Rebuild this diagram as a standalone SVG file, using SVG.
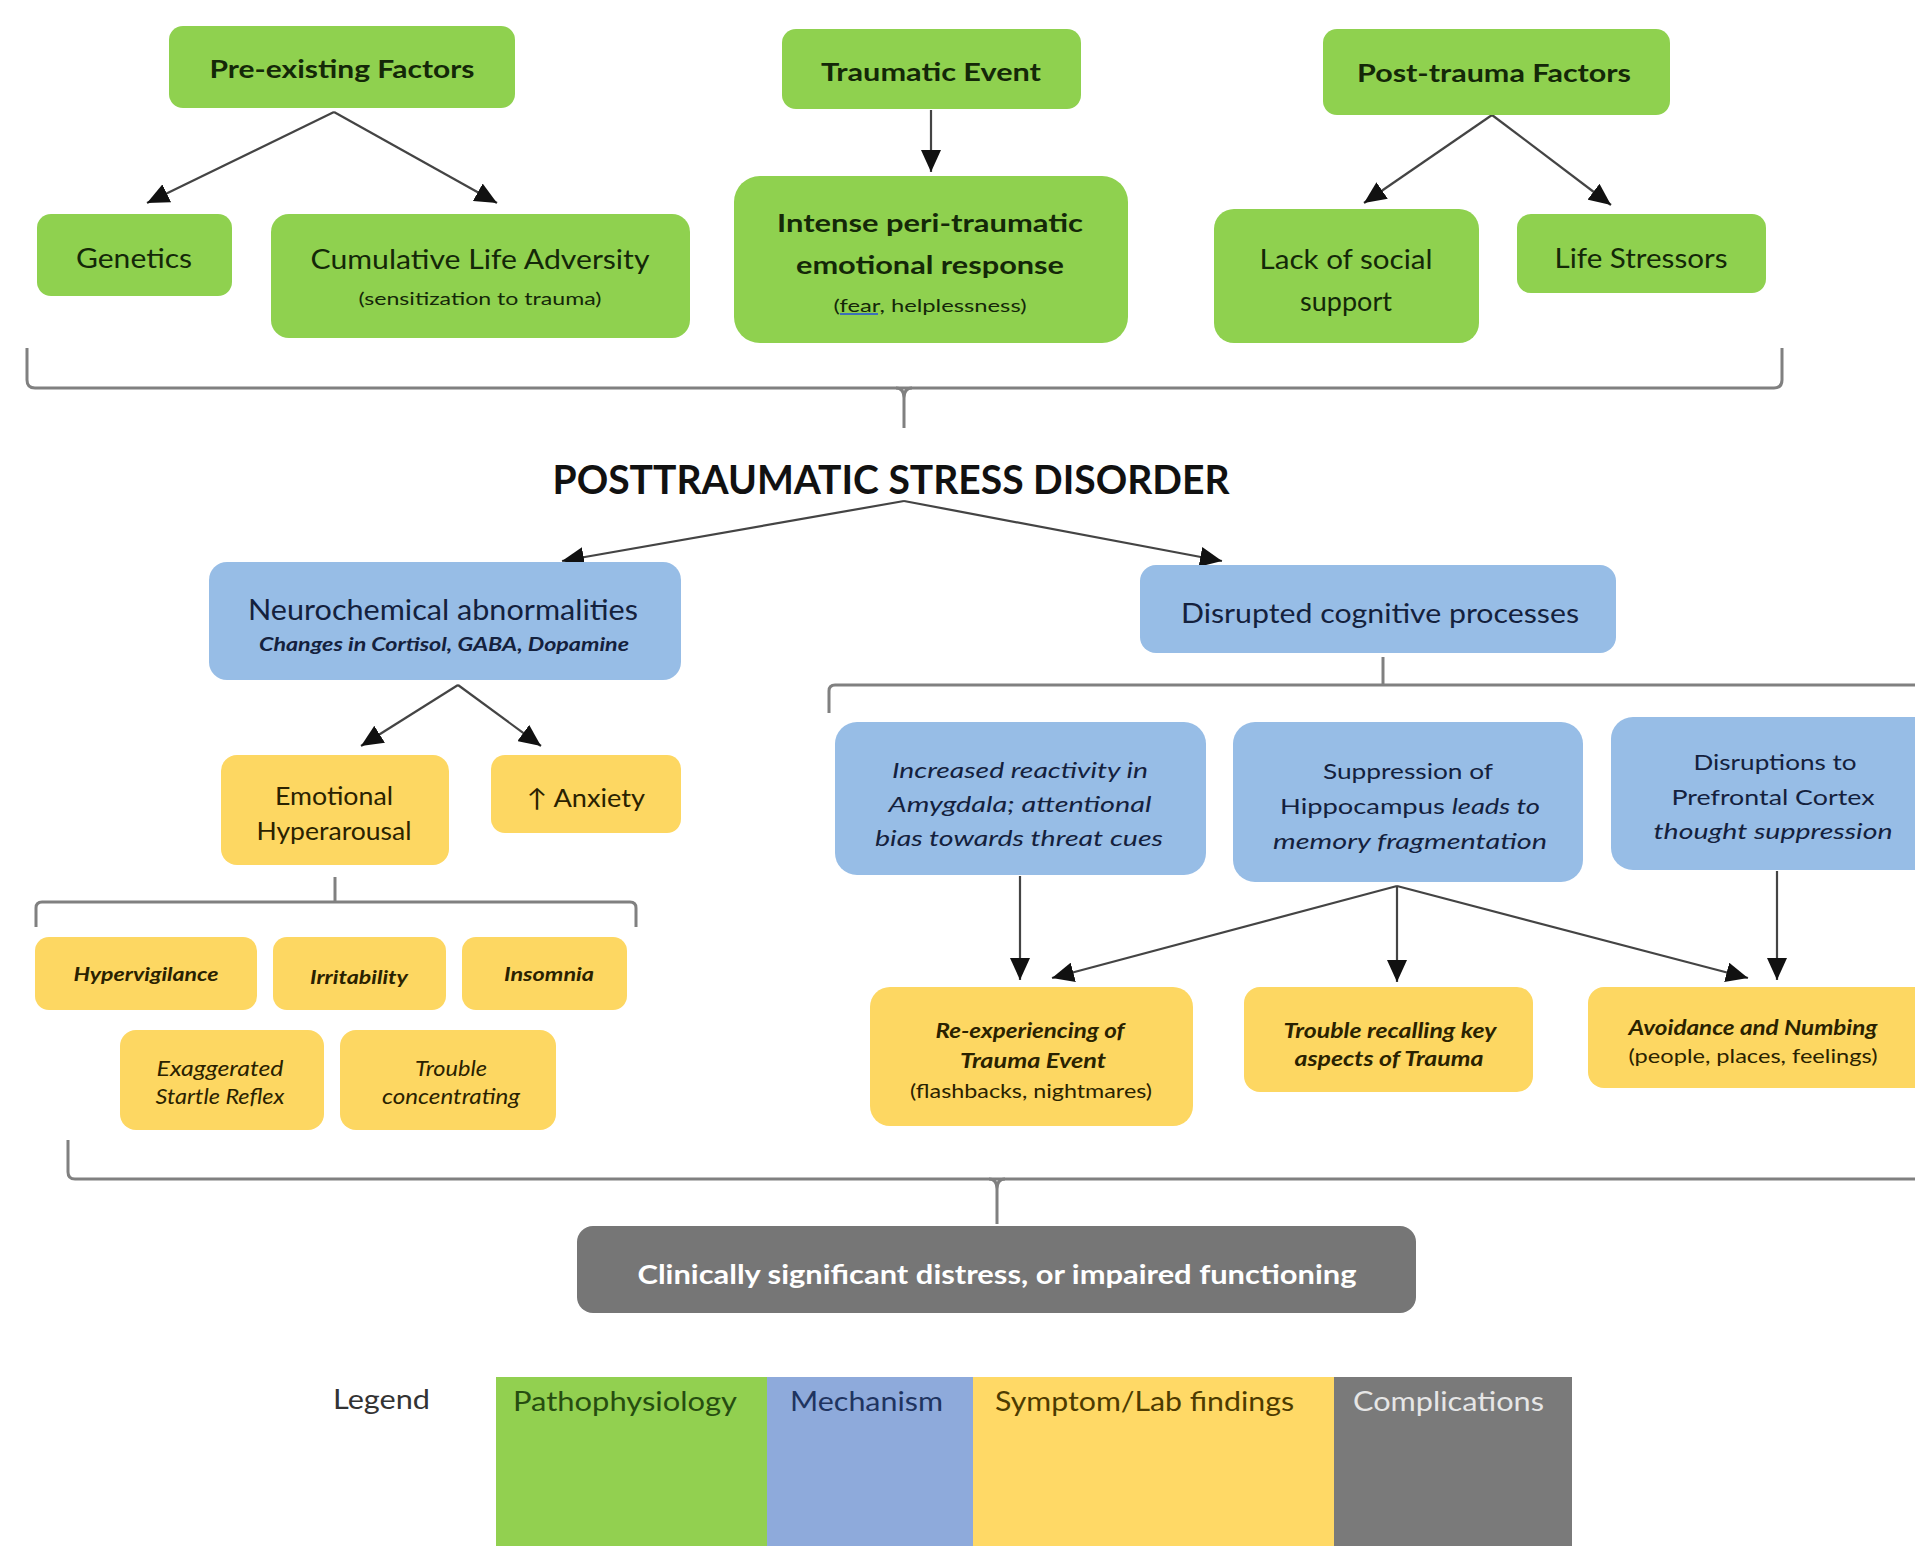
<svg xmlns="http://www.w3.org/2000/svg" width="1915" height="1546" viewBox="0 0 1915 1546">
  <style>
    text { font-family: Lato, "Liberation Sans", "DejaVu Sans", sans-serif; dominant-baseline: central; }
    .c { text-anchor: middle; }
    .s { text-anchor: start; }
    .bold { font-weight: 700; }
    .it { font-style: italic; }
    .g { fill: #8fd14f; }
    .b { fill: #97bde6; }
    .y { fill: #fdd762; }
    .k { fill: #767676; }
    .tg { fill: #142808; }
    .tb { fill: #14213d; }
    .ty { fill: #2a2200; }
    .tk { fill: #ffffff; }
    .arrow { fill: none; stroke: #444; stroke-width: 2.2; marker-end: url(#ah); }
    .brace { fill: none; stroke: #808080; stroke-width: 3; }
  </style>
  <defs>
    <marker id="ah" markerWidth="22" markerHeight="20" refX="22" refY="10" orient="auto" markerUnits="userSpaceOnUse">
      <path d="M0,0 L22,10 L0,20 z" fill="#111"/>
    </marker>
  </defs>
  <rect width="1915" height="1546" fill="#ffffff"/>

  <!-- connectors and grouping braces -->
  <g id="connectors">
    <path class="arrow" d="M334,112 L147,203"/>
    <path class="arrow" d="M334,112 L497,203"/>
    <path class="arrow" d="M931,110 L931,172"/>
    <path class="arrow" d="M1492,115 L1364,203"/>
    <path class="arrow" d="M1492,115 L1611,205"/>

    <path class="brace" d="M27,348 V380 Q27,388 35,388 H1774 Q1782,388 1782,380 V348"/>
    <path class="brace" d="M896,388 Q904,388 904,398 V428 M912,388 Q904,388 904,398"/>

    <path class="arrow" d="M904,501 L562,561"/>
    <path class="arrow" d="M904,501 L1222,561"/>

    <path class="arrow" d="M458,685 L361,746"/>
    <path class="arrow" d="M458,685 L541,746"/>

    <path class="brace" d="M36,927 V908 Q36,902 42,902 H630 Q636,902 636,908 V927"/>
    <path class="brace" d="M335,877 V902"/>

    <path class="brace" d="M829,713 V691 Q829,685 835,685 H1915"/>
    <path class="brace" d="M1383,657 V685"/>

    <path class="arrow" d="M1020,876 L1020,980"/>
    <path class="arrow" d="M1397,886 L1052,978"/>
    <path class="arrow" d="M1397,886 L1397,982"/>
    <path class="arrow" d="M1397,886 L1748,978"/>
    <path class="arrow" d="M1777,871 L1777,980"/>

    <path class="brace" d="M68,1140 V1172 Q68,1179 75,1179 H1915"/>
    <path class="brace" d="M989,1179 Q997,1179 997,1189 V1224 M1005,1179 Q997,1179 997,1189"/>
  </g>

  <!-- risk factors -->
  <g id="pre-existing-factors">
    <rect class="g" x="169" y="26" width="346" height="82" rx="14"/>
    <text class="c bold tg" x="342" y="68" font-size="24" textLength="265" lengthAdjust="spacingAndGlyphs">Pre-existing Factors</text>
  </g>
  <g id="traumatic-event">
    <rect class="g" x="782" y="29" width="299" height="80" rx="14"/>
    <text class="c bold tg" x="931" y="71" font-size="24" textLength="220" lengthAdjust="spacingAndGlyphs">Traumatic Event</text>
  </g>
  <g id="post-trauma-factors">
    <rect class="g" x="1323" y="29" width="347" height="86" rx="14"/>
    <text class="c bold tg" x="1494" y="72" font-size="24" textLength="274" lengthAdjust="spacingAndGlyphs">Post-trauma Factors</text>
  </g>
  <g id="genetics">
    <rect class="g" x="37" y="214" width="195" height="82" rx="14"/>
    <text class="c tg" x="134" y="257" font-size="27" textLength="116" lengthAdjust="spacingAndGlyphs">Genetics</text>
  </g>
  <g id="cumulative-life-adversity">
    <rect class="g" x="271" y="214" width="419" height="124" rx="18"/>
    <text class="c tg" x="480" y="258" font-size="27" textLength="339" lengthAdjust="spacingAndGlyphs">Cumulative Life Adversity</text>
    <text class="c tg" x="480" y="298" font-size="17" textLength="243" lengthAdjust="spacingAndGlyphs">(sensitization to trauma)</text>
  </g>
  <g id="peri-traumatic-response">
    <rect class="g" x="734" y="176" width="394" height="167" rx="26"/>
    <text class="c bold tg" x="930" y="222" font-size="25" textLength="306" lengthAdjust="spacingAndGlyphs">Intense peri-traumatic</text>
    <text class="c bold tg" x="930" y="264" font-size="25" textLength="268" lengthAdjust="spacingAndGlyphs">emotional response</text>
    <text class="c tg" x="930" y="305" font-size="17" textLength="193" lengthAdjust="spacingAndGlyphs">(fear, helplessness)</text>
    <line x1="840" y1="314" x2="878" y2="314" stroke="#3d6fb8" stroke-width="2"/>
  </g>
  <g id="lack-of-social-support">
    <rect class="g" x="1214" y="209" width="265" height="134" rx="20"/>
    <text class="c tg" x="1346" y="258" font-size="27" textLength="173" lengthAdjust="spacingAndGlyphs">Lack of social</text>
    <text class="c tg" x="1346" y="300" font-size="27">support</text>
  </g>
  <g id="life-stressors">
    <rect class="g" x="1517" y="214" width="249" height="79" rx="14"/>
    <text class="c tg" x="1641" y="257" font-size="27" textLength="173" lengthAdjust="spacingAndGlyphs">Life Stressors</text>
  </g>

  <!-- disorder -->
  <g id="ptsd">
    <text class="c bold" x="891" y="479" font-size="40" fill="#111" textLength="677" lengthAdjust="spacingAndGlyphs">POSTTRAUMATIC STRESS DISORDER</text>
  </g>

  <!-- mechanisms -->
  <g id="neurochemical-abnormalities">
    <rect class="b" x="209" y="562" width="472" height="118" rx="18"/>
    <text class="c tb" x="443" y="609" font-size="28" textLength="390" lengthAdjust="spacingAndGlyphs">Neurochemical abnormalities</text>
    <text class="c it bold tb" x="444" y="643" font-size="19" textLength="370" lengthAdjust="spacingAndGlyphs">Changes in Cortisol, GABA, Dopamine</text>
  </g>
  <g id="disrupted-cognitive-processes">
    <rect class="b" x="1140" y="565" width="476" height="88" rx="16"/>
    <text class="c tb" x="1380" y="612" font-size="27" textLength="398" lengthAdjust="spacingAndGlyphs">Disrupted cognitive processes</text>
  </g>

  <!-- hyperarousal branch -->
  <g id="emotional-hyperarousal">
    <rect class="y" x="221" y="755" width="228" height="110" rx="16"/>
    <text class="c ty" x="334" y="795" font-size="25" textLength="118" lengthAdjust="spacingAndGlyphs">Emotional</text>
    <text class="c ty" x="334" y="830" font-size="25" textLength="155" lengthAdjust="spacingAndGlyphs">Hyperarousal</text>
  </g>
  <g id="anxiety">
    <rect class="y" x="491" y="755" width="190" height="78" rx="14"/>
    <text class="c ty" x="586" y="797" font-size="25" textLength="118" lengthAdjust="spacingAndGlyphs">↑ Anxiety</text>
  </g>
  <g id="hypervigilance">
    <rect class="y" x="35" y="937" width="222" height="73" rx="14"/>
    <text class="c it bold ty" x="146" y="973" font-size="19" textLength="145" lengthAdjust="spacingAndGlyphs">Hypervigilance</text>
  </g>
  <g id="irritability">
    <rect class="y" x="273" y="937" width="173" height="73" rx="14"/>
    <text class="c it bold ty" x="359" y="976" font-size="19" textLength="98" lengthAdjust="spacingAndGlyphs">Irritability</text>
  </g>
  <g id="insomnia">
    <rect class="y" x="462" y="937" width="165" height="73" rx="14"/>
    <text class="c it bold ty" x="549" y="973" font-size="19" textLength="90" lengthAdjust="spacingAndGlyphs">Insomnia</text>
  </g>
  <g id="startle-reflex">
    <rect class="y" x="120" y="1030" width="204" height="100" rx="16"/>
    <text class="c it ty" x="220" y="1067" font-size="21" textLength="127" lengthAdjust="spacingAndGlyphs">Exaggerated</text>
    <text class="c it ty" x="220" y="1095" font-size="21" textLength="129" lengthAdjust="spacingAndGlyphs">Startle Reflex</text>
  </g>
  <g id="trouble-concentrating">
    <rect class="y" x="340" y="1030" width="216" height="100" rx="16"/>
    <text class="c it ty" x="451" y="1067" font-size="21" textLength="72" lengthAdjust="spacingAndGlyphs">Trouble</text>
    <text class="c it ty" x="451" y="1095" font-size="21" textLength="138" lengthAdjust="spacingAndGlyphs">concentrating</text>
  </g>

  <!-- cognitive branch -->
  <g id="amygdala">
    <rect class="b" x="835" y="722" width="371" height="153" rx="22"/>
    <text class="c it tb" x="1020" y="769" font-size="22" textLength="256" lengthAdjust="spacingAndGlyphs">Increased reactivity in</text>
    <text class="c it tb" x="1020" y="803" font-size="22" textLength="263" lengthAdjust="spacingAndGlyphs">Amygdala; attentional</text>
    <text class="c it tb" x="1019" y="837" font-size="22" textLength="288" lengthAdjust="spacingAndGlyphs">bias towards threat cues</text>
  </g>
  <g id="hippocampus">
    <rect class="b" x="1233" y="722" width="350" height="160" rx="22"/>
    <text class="c tb" x="1408" y="770" font-size="22" textLength="170" lengthAdjust="spacingAndGlyphs">Suppression of</text>
    <text class="c tb" x="1410" y="805" font-size="22" textLength="260" lengthAdjust="spacingAndGlyphs">Hippocampus <tspan class="it">leads to</tspan></text>
    <text class="c it tb" x="1410" y="840" font-size="22" textLength="274" lengthAdjust="spacingAndGlyphs">memory fragmentation</text>
  </g>
  <g id="prefrontal-cortex">
    <rect class="b" x="1611" y="717" width="330" height="153" rx="22"/>
    <text class="c tb" x="1775" y="761" font-size="22" textLength="163" lengthAdjust="spacingAndGlyphs">Disruptions to</text>
    <text class="c tb" x="1773" y="796" font-size="22" textLength="203" lengthAdjust="spacingAndGlyphs">Prefrontal Cortex</text>
    <text class="c it tb" x="1773" y="830" font-size="22" textLength="239" lengthAdjust="spacingAndGlyphs">thought suppression</text>
  </g>
  <g id="re-experiencing">
    <rect class="y" x="870" y="987" width="323" height="139" rx="20"/>
    <text class="c it bold ty" x="1030" y="1030" font-size="20" textLength="189" lengthAdjust="spacingAndGlyphs">Re-experiencing of</text>
    <text class="c it bold ty" x="1033" y="1060" font-size="20" textLength="146" lengthAdjust="spacingAndGlyphs">Trauma Event</text>
    <text class="c ty" x="1031" y="1090" font-size="20" textLength="242" lengthAdjust="spacingAndGlyphs">(flashbacks, nightmares)</text>
  </g>
  <g id="trouble-recalling">
    <rect class="y" x="1244" y="987" width="289" height="105" rx="16"/>
    <text class="c it bold ty" x="1390" y="1030" font-size="20" textLength="213" lengthAdjust="spacingAndGlyphs">Trouble recalling key</text>
    <text class="c it bold ty" x="1389" y="1058" font-size="20" textLength="189" lengthAdjust="spacingAndGlyphs">aspects of Trauma</text>
  </g>
  <g id="avoidance-numbing">
    <rect class="y" x="1588" y="987" width="345" height="101" rx="16"/>
    <text class="c it bold ty" x="1753" y="1027" font-size="20" textLength="249" lengthAdjust="spacingAndGlyphs">Avoidance and Numbing</text>
    <text class="c ty" x="1753" y="1055" font-size="19" textLength="249" lengthAdjust="spacingAndGlyphs">(people, places, feelings)</text>
  </g>

  <!-- outcome -->
  <g id="clinical-distress">
    <rect class="k" x="577" y="1226" width="839" height="87" rx="16"/>
    <text class="c bold tk" x="997" y="1274" font-size="26" textLength="719" lengthAdjust="spacingAndGlyphs">Clinically significant distress, or impaired functioning</text>
  </g>

  <!-- colour key -->
  <g id="legend">
    <text class="s" x="333" y="1398" font-size="27" fill="#333" textLength="97" lengthAdjust="spacingAndGlyphs">Legend</text>
    <rect x="496" y="1377" width="271" height="169" fill="#92d050"/>
    <rect x="767" y="1377" width="206" height="169" fill="#8eaadb"/>
    <rect x="973" y="1377" width="361" height="169" fill="#ffd966"/>
    <rect x="1334" y="1377" width="238" height="169" fill="#7a7a7a"/>
    <text class="s" x="513" y="1400" font-size="27" fill="#264d10" textLength="224" lengthAdjust="spacingAndGlyphs">Pathophysiology</text>
    <text class="s" x="790" y="1400" font-size="27" fill="#1f3460" textLength="153" lengthAdjust="spacingAndGlyphs">Mechanism</text>
    <text class="s" x="995" y="1400" font-size="27" fill="#4d3b00" textLength="299" lengthAdjust="spacingAndGlyphs">Symptom/Lab findings</text>
    <text class="s" x="1353" y="1400" font-size="27" fill="#e6e6e6" textLength="191" lengthAdjust="spacingAndGlyphs">Complications</text>
  </g>
</svg>
